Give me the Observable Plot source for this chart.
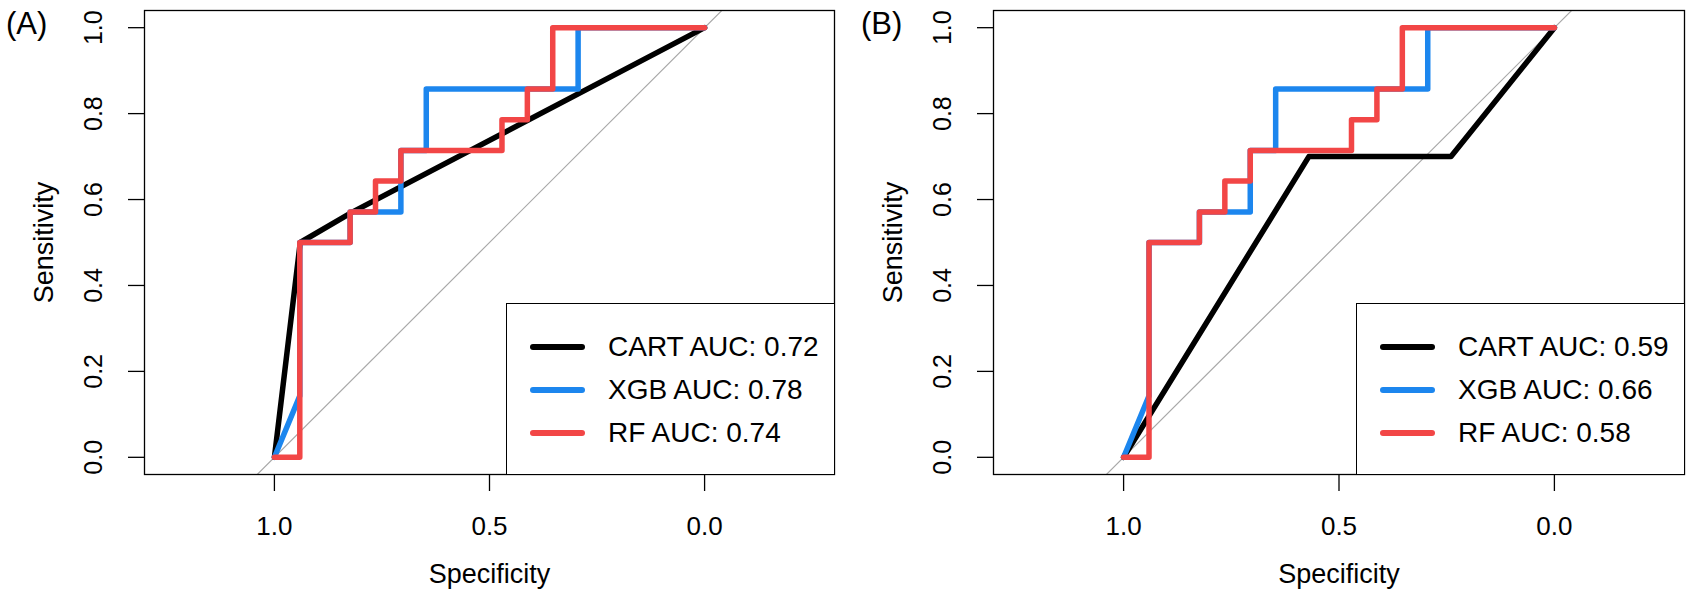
<!DOCTYPE html>
<html>
<head>
<meta charset="utf-8">
<script src="https://cdn.jsdelivr.net/npm/d3@7"></script>
<script src="https://cdn.jsdelivr.net/npm/@observablehq/plot@0.6"></script>
<style>
  body { margin: 0; background: #fff; font-family: "Liberation Sans", Arial, sans-serif; }
  #wrap { display: flex; width: 1693px; height: 601px; }
  .panel { position: relative; height: 601px; }
  .tag { position: absolute; font-size: 31px; line-height: 1; }
  .legend { position: absolute; border: 1.3px solid #000; background: #fff; box-sizing: border-box; }
  .swatch { position: absolute; width: 55px; height: 6px; border-radius: 3px; }
  .label { position: absolute; font-size: 28px; line-height: 1; white-space: nowrap; }
</style>
</head>
<body>
<div id="wrap"></div>
<script>
// ROC points (specificity, sensitivity)
const cartSpecA = [1, 0.94, 0.82, 0];
const cartSensA = [0, 0.5, 0.57, 1];
const cartSpecB = [1, 0.57, 0.24, 0];
const cartSensB = [0, 0.70, 0.70, 1];

// XGB and RF curves look the same in both panels
const xgbSpec = [1, 0.941, 0.941, 0.824, 0.824, 0.706, 0.706, 0.647, 0.647, 0.294, 0.294, 0];
const xgbSens = [0, 0.143, 0.5, 0.5, 0.571, 0.571, 0.714, 0.714, 0.857, 0.857, 1, 1];
const rfSpec = [1, 0.941, 0.941, 0.824, 0.824, 0.765, 0.765, 0.706, 0.706, 0.471, 0.471, 0.412, 0.412, 0.353, 0.353, 0];
const rfSens = [0, 0, 0.5, 0.5, 0.571, 0.571, 0.643, 0.643, 0.714, 0.714, 0.786, 0.786, 0.857, 0.857, 1, 1];

const models = ["CART", "XGB", "RF"];
const colors = ["#000000", "#1c86ee", "#f24646"];
const aucA = [0.72, 0.78, 0.74];
const aucB = [0.59, 0.66, 0.58];

const xTicks = [1, 0.5, 0];
const yTicks = [0, 0.2, 0.4, 0.6, 0.8, 1];
const chanceLine = [{spec: 1.2, sens: -0.2}, {spec: -0.2, sens: 1.2}];

function toPoints(spec, sens) {
  return spec.map((s, i) => ({spec: s, sens: sens[i]}));
}

function rocPlot(curves, width, marginLeft, marginRight) {
  return Plot.plot({
    width: width,
    height: 601,
    marginLeft: marginLeft,
    marginRight: marginRight,
    marginTop: 10,
    marginBottom: 127,
    x: {domain: [1.302, -0.302]},
    y: {domain: [-0.04, 1.04]},
    style: {fontFamily: "Liberation Sans, Arial, sans-serif", fontSize: "26px", color: "black", background: "white"},
    marks: [
      Plot.line(chanceLine, {x: "spec", y: "sens", stroke: "#a9a9a9", strokeWidth: 1.2, clip: true}),
      ...curves.map((c, i) => Plot.line(c, {
        x: "spec", y: "sens", stroke: colors[i], strokeWidth: 5.5,
        strokeLinejoin: "round", strokeLinecap: "round"
      })),
      Plot.frame({stroke: "black", strokeWidth: 1.3}),
      Plot.axisX(xTicks, {tickSize: 17, tickPadding: 25, fontSize: 26, strokeWidth: 1.3,
        tickFormat: d => d.toFixed(1), label: null}),
      Plot.axisY(yTicks, {tickSize: 16, strokeWidth: 1.3, tickFormat: () => "", label: null}),
      Plot.text(yTicks, {y: d => d, frameAnchor: "left", dx: -51, rotate: -90,
        textAnchor: "middle", lineAnchor: "middle", text: d => d.toFixed(1), fontSize: 25}),
      Plot.text(["Sensitivity"], {frameAnchor: "left", dx: -100, rotate: -90,
        textAnchor: "middle", lineAnchor: "middle", text: d => d, fontSize: 27}),
      Plot.text(["Specificity"], {frameAnchor: "bottom", dy: 100,
        textAnchor: "middle", lineAnchor: "middle", text: d => d, fontSize: 27})
    ]
  });
}

function addPanel(tag, tagLeft, curves, auc, width, ml, mr, legLeft) {
  const panel = document.createElement("div");
  panel.className = "panel";
  panel.style.width = width + "px";
  panel.append(rocPlot(curves, width, ml, mr));

  const t = document.createElement("div");
  t.className = "tag";
  t.style.left = tagLeft + "px";
  t.style.top = "8px";
  t.textContent = tag;
  panel.append(t);

  // legend box, bottom right of the plot area
  const leg = document.createElement("div");
  leg.className = "legend";
  leg.style.left = legLeft + "px";
  leg.style.top = "302.7px";
  leg.style.width = "328.6px";
  leg.style.height = "172px";
  models.forEach((m, i) => {
    const y = 43.3 + i * 43;
    const sw = document.createElement("div");
    sw.className = "swatch";
    sw.style.left = "23px";
    sw.style.top = (y - 3) + "px";
    sw.style.background = colors[i];
    leg.append(sw);
    const lb = document.createElement("div");
    lb.className = "label";
    lb.style.left = "101px";
    lb.style.top = (y - 14) + "px";
    lb.textContent = m + " AUC: " + auc[i].toFixed(2);
    leg.append(lb);
  });
  panel.append(leg);
  document.getElementById("wrap").append(panel);
}

const xgbPts = toPoints(xgbSpec, xgbSens);
const rfPts = toPoints(rfSpec, rfSens);
addPanel("(A)", 6, [toPoints(cartSpecA, cartSensA), xgbPts, rfPts], aucA, 846, 144, 12, 506);
addPanel("(B)", 15, [toPoints(cartSpecB, cartSensB), xgbPts, rfPts], aucB, 847, 147, 9, 510);
</script>
</body>
</html>
